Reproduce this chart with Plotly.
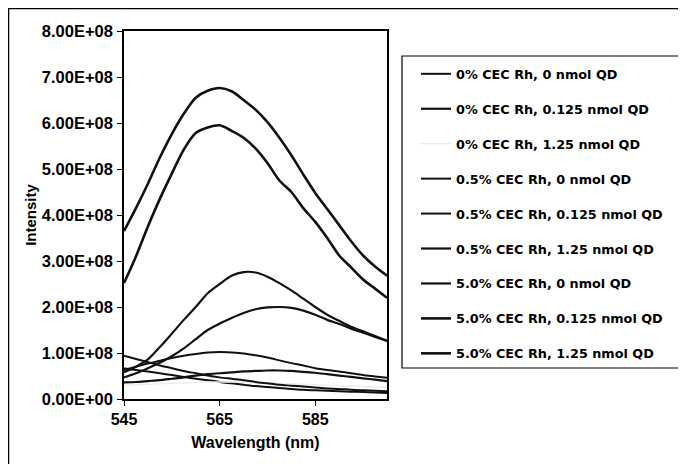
import plotly.graph_objects as go

wavelength = [545, 547.5, 550, 552.5, 555, 557.5, 560, 562.5, 565, 567.5, 570, 572.5,
              575, 577.5, 580, 582.5, 585, 587.5, 590, 592.5, 595, 597.5, 600]

# intensities in units of 1e8
s_0_0 = [0.67, 0.63, 0.60, 0.56, 0.52, 0.48, 0.44, 0.41, 0.37, 0.34, 0.31, 0.28,
         0.26, 0.24, 0.22, 0.20, 0.19, 0.18, 0.17, 0.16, 0.15, 0.14, 0.13]
s_0_0125 = [0.36, 0.37, 0.39, 0.41, 0.44, 0.47, 0.51, 0.54, 0.56, 0.58, 0.60, 0.61,
            0.62, 0.62, 0.61, 0.59, 0.57, 0.54, 0.51, 0.48, 0.45, 0.42, 0.39]
s_0_125 = [0.30, 0.31, 0.32, 0.33, 0.34, 0.35, 0.36, 0.37, 0.37, 0.37, 0.37, 0.36,
           0.35, 0.34, 0.33, 0.32, 0.31, 0.30, 0.29, 0.28, 0.27, 0.26, 0.25]
s_05_0 = [0.94, 0.87, 0.80, 0.73, 0.67, 0.61, 0.56, 0.51, 0.47, 0.44, 0.41, 0.37,
          0.34, 0.31, 0.29, 0.27, 0.25, 0.23, 0.22, 0.20, 0.19, 0.18, 0.17]
s_05_0125 = [0.63, 0.70, 0.77, 0.83, 0.89, 0.94, 0.98, 1.01, 1.02, 1.01, 0.99, 0.95,
             0.90, 0.84, 0.78, 0.73, 0.67, 0.63, 0.60, 0.56, 0.52, 0.49, 0.46]
s_05_125 = [0.47, 0.56, 0.67, 0.79, 0.93, 1.10, 1.30, 1.50, 1.64, 1.76, 1.87, 1.95,
            1.99, 2.00, 1.98, 1.92, 1.83, 1.72, 1.63, 1.53, 1.44, 1.35, 1.26]
s_5_0 = [0.58, 0.70, 0.86, 1.13, 1.42, 1.72, 2.00, 2.30, 2.50, 2.68, 2.76, 2.75,
         2.66, 2.52, 2.36, 2.18, 2.00, 1.83, 1.70, 1.57, 1.47, 1.37, 1.27]
s_5_0125 = [2.52, 3.10, 3.75, 4.35, 4.90, 5.42, 5.78, 5.90, 5.95, 5.83, 5.68, 5.45,
            5.13, 4.75, 4.50, 4.15, 3.85, 3.50, 3.12, 2.86, 2.60, 2.40, 2.20]
s_5_125 = [3.65, 4.15, 4.68, 5.25, 5.76, 6.20, 6.55, 6.70, 6.76, 6.69, 6.50, 6.29,
           6.02, 5.68, 5.30, 4.88, 4.48, 4.13, 3.78, 3.43, 3.12, 2.88, 2.68]

series_names = [
    "0% CEC Rh, 0 nmol QD",
    "0% CEC Rh, 0.125 nmol QD",
    "0% CEC Rh, 1.25 nmol QD",
    "0.5% CEC Rh, 0 nmol QD",
    "0.5% CEC Rh, 0.125 nmol QD",
    "0.5% CEC Rh, 1.25 nmol QD",
    "5.0% CEC Rh, 0 nmol QD",
    "5.0% CEC Rh, 0.125 nmol QD",
    "5.0% CEC Rh, 1.25 nmol QD",
]
series_values = [s_0_0, s_0_0125, s_0_125, s_05_0, s_05_0125, s_05_125, s_5_0, s_5_0125, s_5_125]
series_colors = ["#111111", "#111111", "#ededed", "#111111", "#111111", "#111111",
                 "#111111", "#111111", "#111111"]
series_widths = [2, 2.2, 1.5, 2, 2, 2.2, 2.2, 2.6, 2.6]

y_tickvals = [0, 1e8, 2e8, 3e8, 4e8, 5e8, 6e8, 7e8, 8e8]
y_ticktext = ["0.00E+00", "1.00E+08", "2.00E+08", "3.00E+08", "4.00E+08",
              "5.00E+08", "6.00E+08", "7.00E+08", "8.00E+08"]
x_tickvals = [545, 565, 585]

fig = go.Figure()
for i, (name, vals) in enumerate(zip(series_names, series_values)):
    fig.add_trace(go.Scatter(
        x=wavelength, y=[v * 1e8 for v in vals], mode="lines", name=name,
        legendgroup=f"g{i}",
        line=dict(color=series_colors[i], width=series_widths[i], shape="spline", smoothing=0.8),
    ))

# page has an ~8px body margin; work in page pixels and convert
OFF = 8
W, H = 686 - OFF, 464 - OFF
L, R, T, B = 124 - OFF, 387 - OFF, 31 - OFF, 399 - OFF
pw, ph = R - L, B - T

def px_x(p):
    return (p - OFF - L) / pw

def px_y(p):
    return (B - (p - OFF)) / ph

fig.update_layout(
    width=W, height=H,
    margin=dict(l=L, r=W - R, t=T, b=H - B, pad=0),
    paper_bgcolor="white", plot_bgcolor="white",
    font=dict(family="Liberation Sans, Arial, sans-serif", color="black", size=15, weight="bold"),
    showlegend=True,
    legend=dict(
        x=px_x(416), y=px_y(59), xanchor="left", yanchor="top",
        font=dict(family="DejaVu Sans, Verdana, sans-serif", size=12.8, color="black", weight="bold"),
        bgcolor="rgba(0,0,0,0)", borderwidth=0,
        tracegroupgap=15.3, itemwidth=30,
    ),
    xaxis=dict(
        range=[545, 600], tickvals=x_tickvals, ticks="outside", ticklen=5,
        tickcolor="black", showline=True, linecolor="black", linewidth=1.5, mirror=True,
        showgrid=False, zeroline=False, ticklabelstandoff=0,
        tickfont=dict(size=16, weight="bold"),
        title=dict(text="Wavelength (nm)", font=dict(size=16, weight="bold"), standoff=10),
    ),
    yaxis=dict(
        range=[0, 8e8], tickvals=y_tickvals, ticktext=y_ticktext, ticks="outside", ticklen=5,
        tickcolor="black", showline=True, linecolor="black", linewidth=1.5, mirror=True,
        showgrid=False, zeroline=False, ticklabelstandoff=1,
        tickfont=dict(size=16.5, weight="bold"),
        title=dict(text="Intensity", font=dict(size=15, weight="bold"), standoff=2),
    ),
    shapes=[
        # outer chart frame (cropped at right and bottom)
        dict(type="rect", xref="paper", yref="paper",
             x0=px_x(8.5), x1=px_x(720), y0=px_y(490), y1=px_y(8.5),
             line=dict(color="black", width=1.5), fillcolor="rgba(0,0,0,0)", layer="below"),
        # legend frame
        dict(type="rect", xref="paper", yref="paper",
             x0=px_x(402), x1=px_x(681), y0=px_y(368), y1=px_y(56),
             line=dict(color="black", width=1.2), fillcolor="rgba(0,0,0,0)", layer="below"),
    ],
)

fig.write_html("out.html")
